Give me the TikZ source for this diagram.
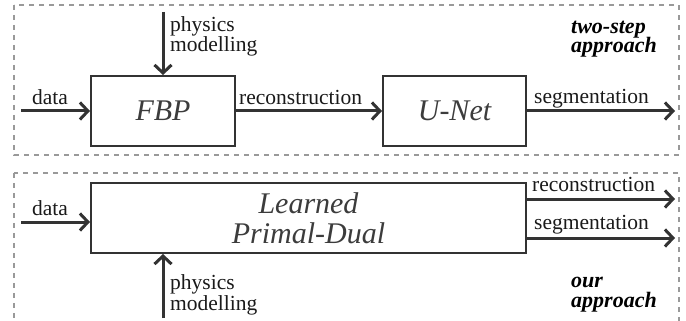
\documentclass[tikz,border=0pt]{standalone}
\usepackage{fontspec}
\setmainfont{Liberation Serif}
\usetikzlibrary{arrows.meta}
\definecolor{ink}{HTML}{333333}
\definecolor{lbltext}{HTML}{1a1a1a}
\definecolor{boxtext}{HTML}{3c3c3c}
\definecolor{dashgray}{HTML}{999999}
\tikzset{
  dashbox/.style={draw=dashgray, line width=1.6pt, dash pattern=on 5pt off 5pt},
  proc/.style={draw=ink, line width=2pt, fill=white, inner sep=0pt, text=boxtext,
    font=\fontsize{30}{30}\selectfont\itshape, align=center},
  arr/.style={draw=ink, line width=3pt, -{Straight Barb[length=8pt,width=17pt,line width=3pt]}},
  lbl/.style={text=lbltext, inner sep=0pt, font=\fontsize{21.5}{20}\selectfont, align=left},
  tag/.style={text=black, inner sep=0pt, font=\fontsize{22}{20}\selectfont\bfseries\itshape, align=left},
}
\begin{document}
\begin{tikzpicture}[x=1pt,y=-1pt]
\useasboundingbox (0,0) rectangle (686,321);
\clip (0,0) rectangle (686,321);
\fill[white] (0,0) rectangle (686,321);
% dashed frames
\draw[dashbox] (14,5) rectangle (679,155);
\draw[dashbox] (14,173) rectangle (679,340);
% top row
\node[proc, minimum width=144pt, minimum height=70pt] (fbp) at (163,111) {FBP};
\node[proc, minimum width=143pt, minimum height=70pt] (unet) at (454.5,111) {U-Net};
\coordinate (din1) at (21,111);
\coordinate (ptop) at (163,12);
\coordinate (sout1) at (675,111);
\draw[arr] (din1) -- (fbp.west);
\draw[arr] (ptop) -- (fbp.north);
\draw[arr] (fbp.east) -- (unet.west);
\draw[arr] (unet.east) -- (sout1);
\node[lbl, anchor=base west] (ldata1) at (32,105) {data};
\node[lbl, anchor=base west] (lphys1) at (170,52) {physics\\modelling};
\node[lbl, anchor=base west] (lrec1) at (239,105) {reconstruction};
\node[lbl, anchor=base west] (lseg1) at (534,103) {segmentation};
\node[tag, anchor=base west] (ltwo) at (571,53) {two-step\\approach};
% bottom row
\node[proc, minimum width=435pt, minimum height=70pt] (lpd) at (308.5,218) {Learned\\Primal-Dual};
\coordinate (din2) at (21,222);
\coordinate (pbot) at (163,318);
\coordinate (rout2) at (675,199);
\coordinate (sout2) at (675,238);
\draw[arr] (din2) -- (lpd.west |- din2);
\draw[arr] (pbot) -- (lpd.south -| pbot);
\draw[arr] (lpd.east |- rout2) -- (rout2);
\draw[arr] (lpd.east |- sout2) -- (sout2);
\node[lbl, anchor=base west] (ldata2) at (32,215) {data};
\node[lbl, anchor=base west, font=\fontsize{21.5}{18}\selectfont] (lphys2) at (170,310) {physics\\modelling};
\node[lbl, anchor=base west] (lrec2) at (532,191) {reconstruction};
\node[lbl, anchor=base west] (lseg2) at (534,229) {segmentation};
\node[tag, anchor=base west] (lour) at (571,307) {our\\approach};
\end{tikzpicture}
\end{document}
